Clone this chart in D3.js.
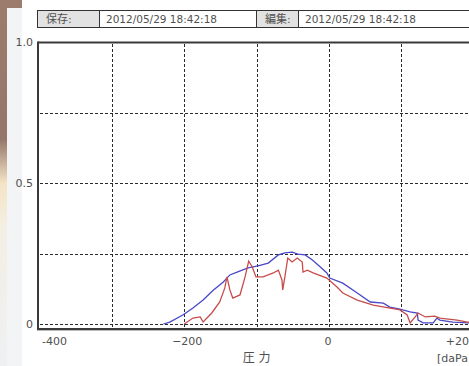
<!DOCTYPE html>
<html>
<head>
<meta charset="utf-8">
<script src="https://cdn.jsdelivr.net/npm/d3@7"></script>
<style>
  html, body { margin: 0; padding: 0; background: #fff; }
  svg { display: block; }
  text { font-family: "DejaVu Sans", "Noto Sans CJK JP", sans-serif; fill: #505050; }
</style>
</head>
<body>
<div id="app"></div>
<script>
// ヘッダー
const headerLabels = ["保存:", "編集:"];
const headerDates = ["2012/05/29 18:42:18", "2012/05/29 18:42:18"];

// 軸
const xTicks = [-400, -200, 0, 200];
const xTickLabels = ["-400", "\u2212200", "0", "+200"];
const xGrid = [-300, -200, -100, 0, 100, 200];
const yTicks = [0, 0.5, 1.0];
const yTickLabels = ["0", "0.5", "1.0"];
const yGrid = [0, 0.25, 0.5, 0.75];
const xTitle = "圧 力";
const xUnit = "[daPa]";

// 青（圧力, 値）
const bluePressure = [-229, -220, -202, -188, -174, -160, -146, -137, -127, -112, -98, -84, -70, -61, -51, -43, -33, -23, -12, -3, 1, 19, 39, 57, 75, 84, 98, 112, 122, 123, 130, 144, 149, 153, 171, 192, 209];
const blueValue = [0, 0.007, 0.032, 0.057, 0.085, 0.12, 0.149, 0.174, 0.184, 0.199, 0.206, 0.216, 0.245, 0.252, 0.255, 0.248, 0.245, 0.227, 0.202, 0.181, 0.163, 0.145, 0.11, 0.078, 0.074, 0.06, 0.053, 0.043, 0.039, 0.014, 0.004, 0.004, 0.021, 0.014, 0.007, 0.004, 0.004];

// 赤（圧力, 値）
const redPressure = [-200, -188, -178, -174, -162, -151, -144, -141, -137, -133, -123, -116, -111, -106, -101, -91, -77, -70, -65, -64, -61, -57, -51, -44, -37, -36, -30, -22, -3, 11, 19, 39, 61, 98, 108, 112, 119, 123, 133, 146, 153, 177, 191, 209];
const redValue = [0, 0.021, 0.025, 0.007, 0.039, 0.078, 0.128, 0.167, 0.121, 0.092, 0.103, 0.167, 0.223, 0.202, 0.167, 0.167, 0.181, 0.191, 0.156, 0.121, 0.167, 0.234, 0.22, 0.234, 0.22, 0.184, 0.191, 0.181, 0.163, 0.131, 0.11, 0.085, 0.067, 0.05, 0.032, 0.004, 0.025, 0.039, 0.025, 0.028, 0.021, 0.014, 0.007, 0.007];

const width = 469, height = 366;

const svg = d3.select("#app").append("svg")
    .attr("width", width)
    .attr("height", height);

// 背景（写真の左端）
const defs = svg.append("defs");
const grad = defs.append("linearGradient")
    .attr("id", "edge").attr("x1", 0).attr("y1", 0).attr("x2", 0).attr("y2", 1);
grad.append("stop").attr("offset", "0%").attr("stop-color", "#9c7c6c");
grad.append("stop").attr("offset", "38%").attr("stop-color", "#94766a");
grad.append("stop").attr("offset", "50%").attr("stop-color", "#f3e4c4");
grad.append("stop").attr("offset", "62%").attr("stop-color", "#f4efe4");
grad.append("stop").attr("offset", "100%").attr("stop-color", "#eef0f2");

svg.append("rect").attr("x", 7).attr("y", 8).attr("width", 15).attr("height", height).attr("fill", "#f2f4f6");
svg.append("rect").attr("x", 0).attr("y", 0).attr("width", 22).attr("height", 8).attr("fill", "#9c7c6c");
svg.append("rect").attr("x", 0).attr("y", 0).attr("width", 7).attr("height", height).attr("fill", "url(#edge)");

// ヘッダー枠
const header = svg.append("g");
const cellX = [37, 99, 256, 298, 480];
[0, 1, 2, 3].forEach(i => {
    header.append("rect")
        .attr("x", cellX[i] + 0.5).attr("y", 10.5)
        .attr("width", cellX[i + 1] - cellX[i]).attr("height", 17)
        .attr("fill", i % 2 === 0 ? "#e2e2e2" : "#fff")
        .attr("stroke", "#333").attr("stroke-width", 1);
});
headerLabels.forEach((t, i) => {
    header.append("text").attr("x", cellX[i * 2] + 9).attr("y", 23)
        .attr("font-size", "11px").attr("font-family", "Noto Sans CJK JP").text(t);
    header.append("text").attr("x", cellX[i * 2 + 1] + 7).attr("y", 23)
        .attr("font-size", "10.5px").text(headerDates[i]);
});

// スケール
const x = d3.scaleLinear().domain([-400, 200]).range([39.5, 473.8]);
const y = d3.scaleLinear().domain([0, 1]).range([324, 42]);

// グリッド
const grid = svg.append("g").attr("stroke", "#2a2a2a").attr("stroke-width", 1).attr("stroke-dasharray", "3,2");
xGrid.forEach(v => {
    grid.append("line")
        .attr("x1", Math.round(x(v)) + 0.5).attr("x2", Math.round(x(v)) + 0.5)
        .attr("y1", 44).attr("y2", 328);
});
yGrid.forEach(v => {
    grid.append("line")
        .attr("x1", 40).attr("x2", width)
        .attr("y1", Math.round(y(v)) + 0.5).attr("y2", Math.round(y(v)) + 0.5);
});

// 曲線
svg.append("clipPath").attr("id", "plot")
    .append("rect").attr("x", 39).attr("y", 43).attr("width", width).attr("height", 285);

const line = d3.line().x(d => x(d[0])).y(d => y(d[1]));
const curves = svg.append("g").attr("clip-path", "url(#plot)").attr("fill", "none").attr("stroke-width", 1.3);
curves.append("path")
    .datum(bluePressure.map((p, i) => [p, blueValue[i]]))
    .attr("stroke", "#4848c8").attr("d", line);
curves.append("path")
    .datum(redPressure.map((p, i) => [p, redValue[i]]))
    .attr("stroke", "#c84c4c").attr("d", line);

// 枠
const frame = svg.append("g").attr("stroke", "#3a3a3a").attr("stroke-width", 2).attr("fill", "none");
frame.append("line").attr("x1", 38).attr("x2", width).attr("y1", 42.5).attr("y2", 42.5);
frame.append("line").attr("x1", 38).attr("x2", 38).attr("y1", 41.5).attr("y2", 330);
frame.append("line").attr("x1", 37).attr("x2", width).attr("y1", 329).attr("y2", 329);
svg.append("line").attr("x1", 37).attr("x2", width).attr("y1", 330.5).attr("y2", 330.5)
    .attr("stroke", "#bbb").attr("stroke-width", 1);

// 目盛ラベル
yTicks.forEach((v, i) => {
    svg.append("text")
        .attr("x", 33).attr("y", y(v) + 4)
        .attr("text-anchor", "end").attr("font-size", "11px")
        .text(yTickLabels[i]);
});
const xNudge = [15, 3, -1, -13];
xTicks.forEach((v, i) => {
    svg.append("text")
        .attr("x", x(v) + xNudge[i]).attr("y", 345)
        .attr("text-anchor", "middle").attr("font-size", "11px")
        .text(xTickLabels[i]);
});
svg.append("text")
    .attr("x", x(-100)).attr("y", 362)
    .attr("text-anchor", "middle").attr("font-size", "12px")
    .attr("font-family", "Noto Sans CJK JP")
    .text(xTitle);
svg.append("text")
    .attr("x", 437).attr("y", 362)
    .attr("font-size", "11px")
    .text(xUnit);
</script>
</body>
</html>
